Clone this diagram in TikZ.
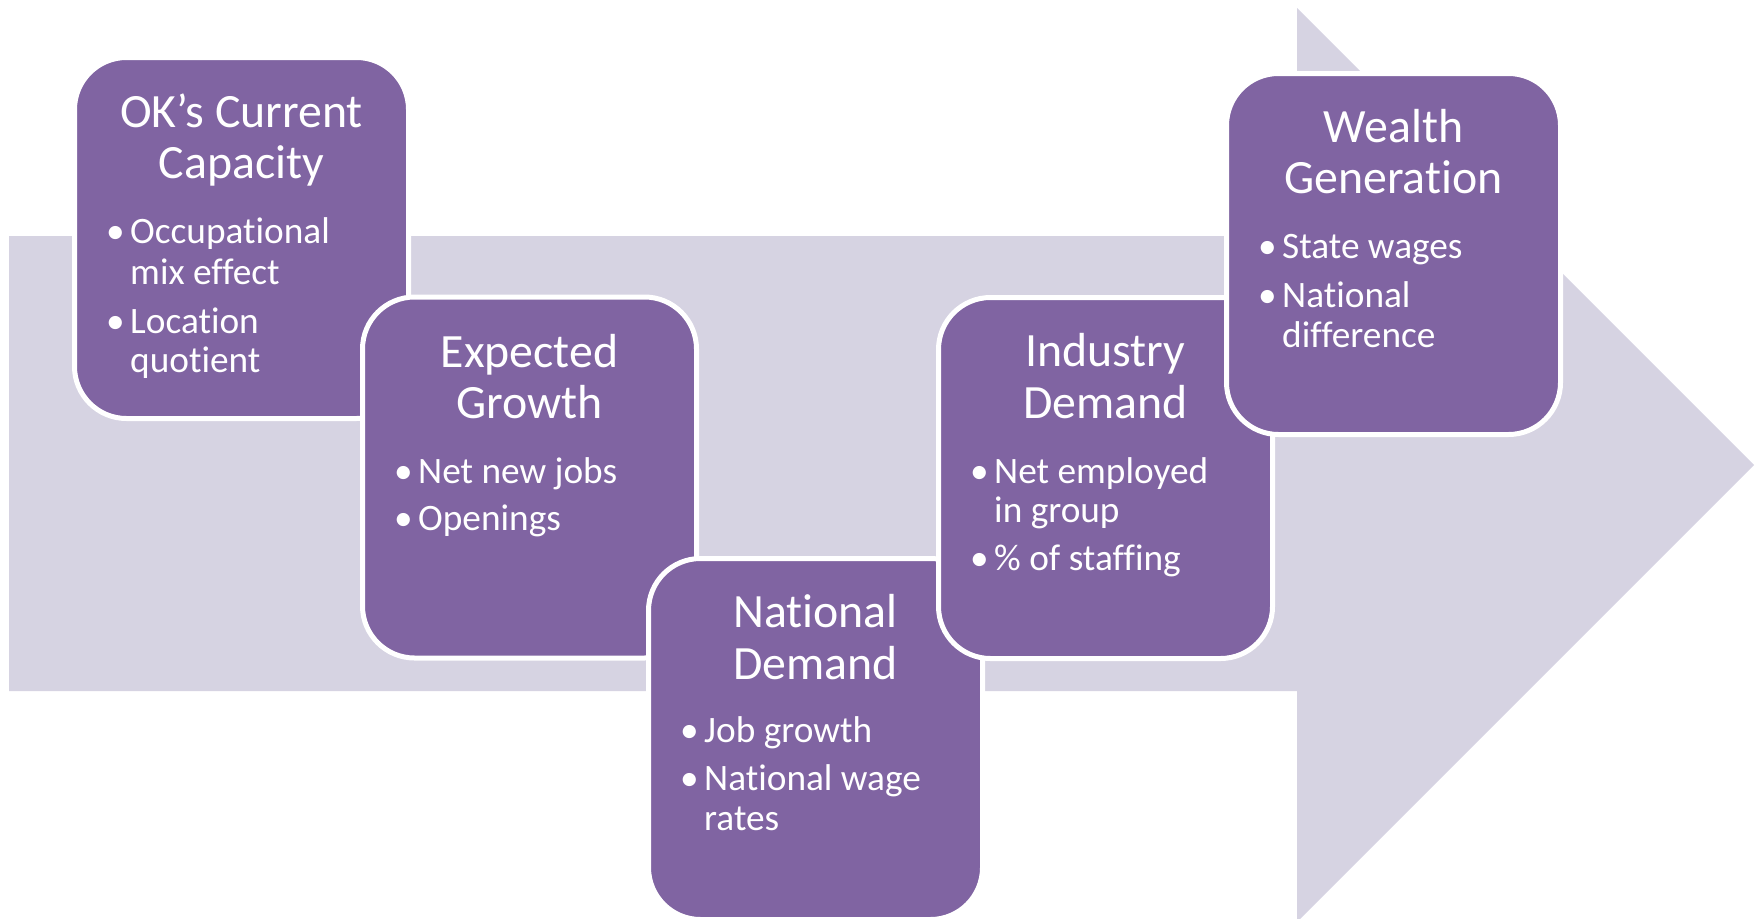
\documentclass[tikz,border=0pt]{standalone}
\usepackage{fontspec}
\setmainfont{Carlito}[Ligatures=CommonOff]
\definecolor{boxpurple}{HTML}{8064A2}
\definecolor{arrowlite}{HTML}{D6D3E2}
\begin{document}
\begin{tikzpicture}[x=1pt,y=-1pt,
  stage/.style={draw=white, line width=5pt, fill=boxpurple, rounded corners=52pt,
    minimum width=334pt, minimum height=361pt, inner sep=0pt},
  ttl/.style={text=white, font=\fontsize{47.8}{52}\selectfont, inner sep=0pt, anchor=base},
  itm/.style={text=white, font=\fontsize{37.3}{41}\selectfont, inner sep=0pt, anchor=base west},
  bulletdot/.style={text=white, font=\fontsize{37.3}{41}\selectfont, inner sep=0pt, anchor=base west}
]
\useasboundingbox (0,0) rectangle (1760,918);
% big arrow
\fill[arrowlite] (9,236) -- (1297,236) -- (1297,8) -- (1754,465) -- (1297,922) -- (1297,691) -- (9,691) -- cycle;

% box 1
\node[stage] (b1) at (241.5,238) {};
\node[ttl] (t1a) at (241.5,127) {OK’s Current};
\node[ttl] (t1b) at (241.5,178) {Capacity};
\node[bulletdot] (d1a) at (106,243) {•};
\node[itm] (i1a) at (130,243) {Occupational};
\node[itm] (i1b) at (130,284) {mix effect};
\node[bulletdot] (d1b) at (106,333) {•};
\node[itm] (i1c) at (130,333) {Location};
\node[itm] (i1d) at (130,372) {quotient};

% box 2
\node[stage] (b2) at (529.5,477.5) {};
\node[ttl] (t2a) at (529.5,367) {Expected};
\node[ttl] (t2b) at (529.5,418) {Growth};
\node[bulletdot] (d2a) at (394,483) {•};
\node[itm] (i2a) at (418,483) {Net new jobs};
\node[bulletdot] (d2b) at (394,530) {•};
\node[itm] (i2b) at (418,530) {Openings};

% box 3
\node[stage] (b3) at (815.5,739) {};
\node[ttl] (t3a) at (815.5,627) {National};
\node[ttl] (t3b) at (815.5,679) {Demand};
\node[bulletdot] (d3a) at (680,742) {•};
\node[itm] (i3a) at (704,742) {Job growth};
\node[bulletdot] (d3b) at (680,790) {•};
\node[itm] (i3b) at (704,790) {National wage};
\node[itm] (i3c) at (704,830) {rates};

% box 4
\node[stage] (b4) at (1105.5,478) {};
\node[ttl] (t4a) at (1105.5,366) {Industry};
\node[ttl] (t4b) at (1105.5,418) {Demand};
\node[bulletdot] (d4a) at (970,483) {•};
\node[itm] (i4a) at (994,483) {Net employed};
\node[itm] (i4b) at (994,522) {in group};
\node[bulletdot] (d4b) at (970,570) {•};
\node[itm] (i4c) at (994,570) {\% of staffing};

% box 5
\node[stage] (b5) at (1393.5,254) {};
\node[ttl] (t5a) at (1393.5,142) {Wealth};
\node[ttl] (t5b) at (1393.5,193) {Generation};
\node[bulletdot] (d5a) at (1258,258) {•};
\node[itm] (i5a) at (1282,258) {State wages};
\node[bulletdot] (d5b) at (1258,307) {•};
\node[itm] (i5b) at (1282,307) {National};
\node[itm] (i5c) at (1282,347) {difference};
\end{tikzpicture}
\end{document}
